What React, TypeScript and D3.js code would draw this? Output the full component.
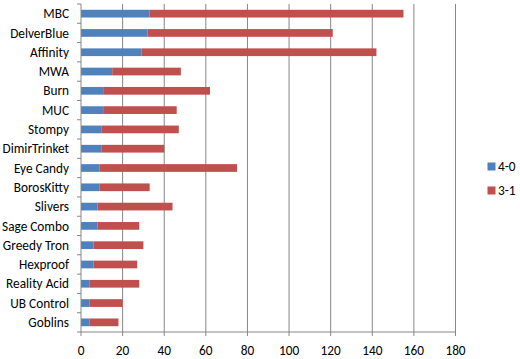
import React from "react";
import * as d3 from "d3";

const categories = ["MBC","DelverBlue","Affinity","MWA","Burn","MUC","Stompy","DimirTrinket","Eye Candy","BorosKitty","Slivers","Sage Combo","Greedy Tron","Hexproof","Reality Acid","UB Control","Goblins"];
const series40 = [33,32,29,15,11,11,10,10,9,9,8,8,6,6,4,4,4];
const series31 = [122,89,113,33,51,35,37,30,66,24,36,20,24,21,24,16,14];
const seriesNames = ["4-0","3-1"];
const seriesColors = ["#4F81BD","#C0504D"];
const xTicks = [0,20,40,60,80,100,120,140,160,180];

export default function App() {
  const W = 520, H = 359;
  const left = 81, right = 455.5, top = 4, bottom = 332;
  const x = d3.scaleLinear().domain([0, 180]).range([left, right]);
  const y = d3.scaleBand<string>().domain(categories).range([top, bottom]).paddingInner(0.6).paddingOuter(0.3);
  const step = (bottom - top) / categories.length;
  const font = "Calibri, Carlito, 'Liberation Sans', Arial, sans-serif";
  const grid = "#868686";
  const fs = 13.3;
  return (
    <svg width={W} height={H} style={{ position: "absolute", left: 0, top: 0, fontFamily: font }}>
      <rect width={W} height={H} fill="#fff" />
      {xTicks.slice(1).map(t => (
        <line key={t} x1={x(t)} x2={x(t)} y1={top} y2={bottom} stroke={grid} strokeWidth={1} />
      ))}
      {categories.map((c, i) => {
        const by = y(c)!;
        const bh = y.bandwidth();
        return (
          <g key={c}>
            <rect x={x(0)} y={by} width={x(series40[i]) - x(0)} height={bh} fill={seriesColors[0]} />
            <rect x={x(series40[i])} y={by} width={x(series40[i] + series31[i]) - x(series40[i])} height={bh} fill={seriesColors[1]} />
            <text x={69} y={by + bh / 2} dy="0.35em" textAnchor="end" fontSize={fs} fill="#000">{c}</text>
          </g>
        );
      })}
      {d3.range(categories.length + 1).map(i => (
        <line key={"ct" + i} x1={77} x2={left} y1={top + i * step} y2={top + i * step} stroke={grid} />
      ))}
      <line x1={left} x2={left} y1={top} y2={bottom} stroke={grid} />
      <line x1={left} x2={right} y1={bottom} y2={bottom} stroke={grid} />
      {xTicks.map(t => (
        <g key={"xt" + t}>
          <line x1={x(t)} x2={x(t)} y1={bottom} y2={bottom + 4} stroke={grid} />
          <text x={x(t)} y={350} dy="0.35em" textAnchor="middle" fontSize={fs} fill="#000">{t}</text>
        </g>
      ))}
      {seriesNames.map((n, i) => (
        <g key={n}>
          <rect x={487.5} y={162.5 + i * 24} width={8} height={8} fill={seriesColors[i]} />
          <text x={498} y={166.5 + i * 24} dy="0.35em" fontSize={fs} fill="#000">{n}</text>
        </g>
      ))}
    </svg>
  );
}
